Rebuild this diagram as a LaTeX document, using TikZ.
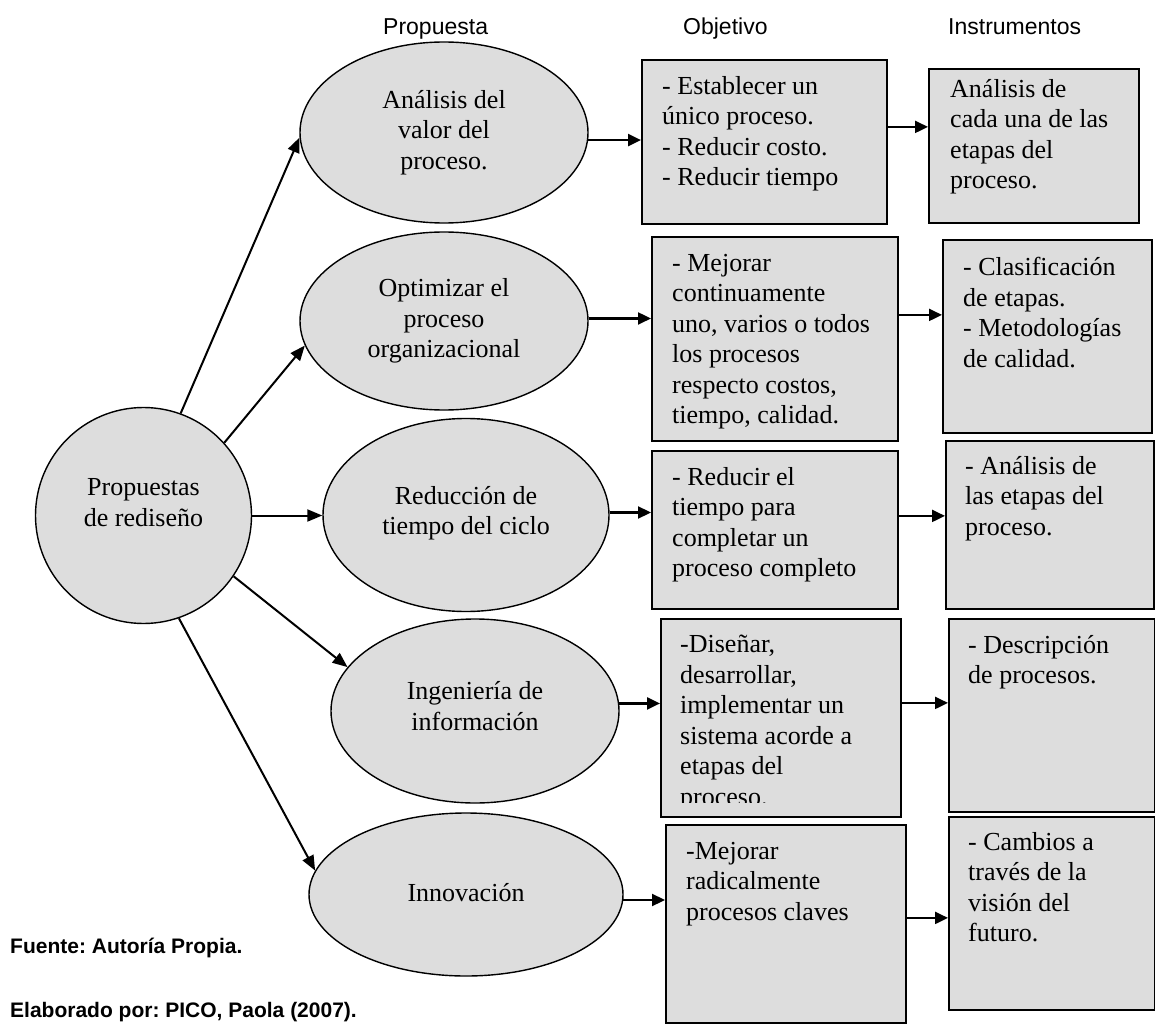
\documentclass[tikz,border=0pt]{standalone}
\usepackage{fontspec}
\setmainfont{Liberation Serif}
\setsansfont{Liberation Sans}
\usetikzlibrary{arrows.meta,shapes.geometric,calc}
\definecolor{shapefill}{RGB}{221,221,221}
\frenchspacing

\begin{document}
\begin{tikzpicture}[x=1pt,y=-1pt,
  bubble/.style={draw=black, line width=1.4pt, fill=shapefill, ellipse, inner sep=0pt},
  card/.style={draw=black, line width=1.8pt, fill=shapefill, rectangle, inner sep=0pt, anchor=north west},
  body/.style={font=\fontsize{26}{30.5}\selectfont, inner sep=0pt},
  cardtext/.style={body, align=left, anchor=north west},
  bubtext/.style={body, align=center},
  head/.style={font=\sffamily\fontsize{23}{27}\selectfont, inner sep=0pt, anchor=base west},
  note/.style={font=\sffamily\bfseries\fontsize{21}{25}\selectfont, inner sep=0pt, anchor=base west},
  link/.style={line width=2pt, -{Triangle[length=15pt,width=12pt]}},
  flow/.style={line width=2.2pt, -{Triangle[length=13pt,width=12pt]}},
]
\fill[white] (0,0) rectangle (1155,1032);
\useasboundingbox (0,0) rectangle (1155,1032);

% column headings
\node[head] (h1) at (383,35) {Propuesta};
\node[head] (h2) at (683,35) {Objetivo};
\node[head] (h3) at (948,35) {Instrumentos};

% central circle and proposals
\node[bubble, minimum width=216, minimum height=216] (c) at (143.5,515.5) {};
\node[bubtext] (ct) at ([yshift=13]c.center) {Propuestas\\de rediseño};

\node[bubble, minimum width=288, minimum height=181] (e1) at (444,132.5) {};
\node[bubble, minimum width=288, minimum height=178] (e2) at (444,321) {};
\node[bubble, minimum width=286, minimum height=193] (e3) at (466,515) {};
\node[bubble, minimum width=288, minimum height=184] (e4) at (475,711) {};
\node[bubble, minimum width=314, minimum height=163] (e5) at (466,894.5) {};

\node[bubtext] (e1t) at (e1.center) {Análisis del\\valor del\\proceso.};
\node[bubtext] (e2t) at (e2.center) {Optimizar el\\proceso\\organizacional};
\node[bubtext] (e3t) at ([yshift=2]e3.center) {Reducción de\\tiempo del ciclo};
\node[bubtext] (e4t) at ([yshift=5]e4.center) {Ingeniería de\\información};
\node[bubtext] (e5t) at ([yshift=2]e5.center) {Innovación};

% objective boxes
\node[card, minimum width=245, minimum height=164] (o1) at (641,59) {};
\node[card, minimum width=246, minimum height=204] (o2) at (651,236) {};
\node[card, minimum width=246, minimum height=158] (o3) at (651,450) {};
\node[card, minimum width=240, minimum height=198] (o4) at (660,618) {};
\node[card, minimum width=240, minimum height=198] (o5) at (665,824) {};

% instrument boxes
\node[card, minimum width=210, minimum height=154] (i1) at (928,68) {};
\node[card, minimum width=209, minimum height=193] (i2) at (942,239) {};
\node[card, minimum width=208, minimum height=168] (i3) at (945,440) {};
\node[card, minimum width=206, minimum height=193] (i4) at (948,618) {};
\node[card, minimum width=206, minimum height=193] (i5) at (948,816) {};

% box texts
\node[cardtext] (o1t) at ([shift={(21,17)}]o1.north west) {- Establecer un\\único proceso.\\- Reducir costo.\\- Reducir tiempo};
\node[cardtext] (o2t) at ([shift={(21,18)}]o2.north west) {- Mejorar\\continuamente\\uno, varios o todos\\los procesos\\respecto costos,\\tiempo, calidad.};
\node[cardtext] (o3t) at ([shift={(21,17)}]o3.north west) {- Reducir el\\tiempo para\\completar un\\proceso completo};
\begin{scope}
  \clip (o4.north west) rectangle ([yshift=15]o4.south east);
  \node[cardtext] (o4t) at ([shift={(20,17)}]o4.north west) {-Diseñar,\\desarrollar,\\implementar un\\sistema acorde a\\etapas del\\proceso.};
\end{scope}
\node[cardtext] (o5t) at ([shift={(21,18)}]o5.north west) {-Mejorar\\radicalmente\\procesos claves};

\node[cardtext] (i1t) at ([shift={(22,11)}]i1.north west) {Análisis de\\cada una de las\\etapas del\\proceso.};
\node[cardtext] (i2t) at ([shift={(21,18)}]i2.north west) {- Clasificación\\de etapas.\\- Metodologías\\de calidad.};
\node[cardtext] (i3t) at ([shift={(20,16)}]i3.north west) {- Análisis de\\las etapas del\\proceso.};
\node[cardtext] (i4t) at ([shift={(20,17)}]i4.north west) {- Descripción\\de procesos.};
\node[cardtext] (i5t) at ([shift={(20,16)}]i5.north west) {- Cambios a\\través de la\\visión del\\futuro.};

% circle to proposals
\draw[link] (c.70) -- (e1.182);
\draw[link] (c.42) -- (e2.190);
\draw[link] (c.east) -- (c.east -| e3.west);
\draw[link] (c.-34) -- (e4.161);
\draw[link] (c.-71) -- (e5.171);

% proposals to objectives
\draw[flow] (e1.357) -- (e1.357 -| o1.west);
\draw[flow] (e2.1) -- (e2.1 -| o2.west);
\draw[flow] (e3.1) -- (e3.1 -| o3.west);
\draw[flow] (e4.3) -- (e4.3 -| o4.west);
\draw[flow] (e5.358) -- (e5.358 -| o5.west);

% objectives to instruments
\draw[flow] ([yshift=15]o1.east) coordinate (s1) -- (s1 -| i1.west);
\draw[flow] ([yshift=24]o2.east) coordinate (s2) -- (s2 -| i2.west);
\draw[flow] ([yshift=14]o3.east) coordinate (s3) -- (s3 -| i3.west);
\draw[flow] ([yshift=15]o4.east) coordinate (s4) -- (s4 -| i4.west);
\draw[flow] ([yshift=6]o5.east) coordinate (s5) -- (s5 -| i5.west);

% source notes
\node[note] (n1) at (10,953) {Fuente: Autoría Propia.};
\node[note] (n2) at (10,1017) {Elaborado por: PICO, Paola (2007).};
\end{tikzpicture}
\end{document}
